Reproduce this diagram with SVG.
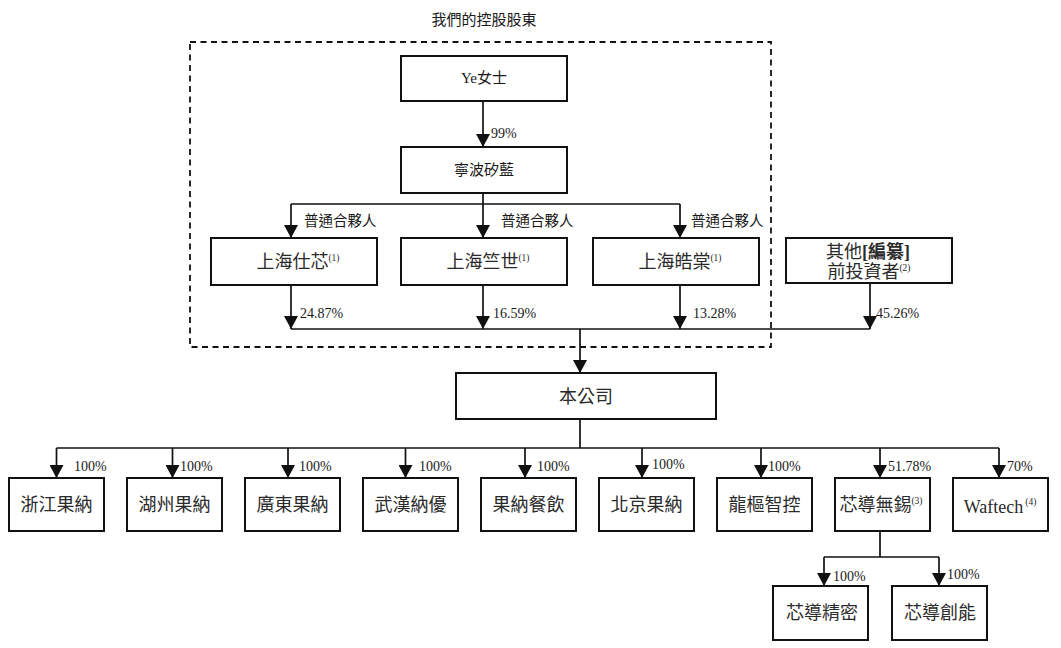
<svg xmlns="http://www.w3.org/2000/svg" width="1061" height="648" viewBox="0 0 1061 648">
<style>
  text { font-family: "Liberation Serif", "Times New Roman", "DejaVu Serif", "Noto Sans CJK TC", serif; fill: #1a1a1a; }
  .box { fill: #ffffff; stroke: #111; stroke-width: 2; }
  .ln { fill: none; stroke: #111; stroke-width: 1.7; }
  .arr { fill: none; stroke: #111; stroke-width: 1.7; marker-end: url(#ah); }
  .dash { fill: none; stroke: #111; stroke-width: 1.8; stroke-dasharray: 6 4.5; }
  .t18 { font-size: 18px; text-anchor: middle; fill: #2a2a2a; }
  .t15 { font-size: 15px; text-anchor: middle; }
  .pct { font-size: 14px; }
  .gp { font-size: 14.5px; }
  .sup { font-size: 9.5px; }
</style>
<defs>
  <marker id="ah" markerWidth="14" markerHeight="14" refX="13" refY="7" orient="auto" markerUnits="userSpaceOnUse">
    <path d="M0,0 L13,7 L0,14 z" fill="#111"/>
  </marker>
</defs>
<rect width="1061" height="648" fill="#ffffff"/>

<g id="controlling-group">
  <rect class="dash" x="190" y="42" width="581" height="305"/>
  <text id="title" x="484" y="25" class="t15">我們的控股股東</text>
</g>

<g id="connectors">
  <line class="arr" x1="483" y1="101" x2="483" y2="147"/>
  <text class="pct" x="491" y="138">99%</text>

  <line class="ln" x1="483" y1="193" x2="483" y2="204"/>
  <line class="ln" x1="291" y1="204" x2="680" y2="204"/>
  <line class="arr" x1="291" y1="204" x2="291" y2="238"/>
  <line class="arr" x1="483" y1="204" x2="483" y2="238"/>
  <line class="arr" x1="680" y1="204" x2="680" y2="238"/>
  <text class="gp" x="304" y="226">普通合夥人</text>
  <text class="gp" x="501" y="226">普通合夥人</text>
  <text class="gp" x="691" y="226">普通合夥人</text>

  <line class="arr" x1="291" y1="285" x2="291" y2="329"/>
  <line class="arr" x1="483" y1="285" x2="483" y2="329"/>
  <line class="arr" x1="680" y1="285" x2="680" y2="329"/>
  <line class="arr" x1="870" y1="283" x2="870" y2="329"/>
  <line class="ln" x1="291" y1="329" x2="870" y2="329"/>
  <text class="pct" x="300" y="318">24.87%</text>
  <text class="pct" x="493" y="318">16.59%</text>
  <text class="pct" x="693" y="318">13.28%</text>
  <text class="pct" x="876" y="318">45.26%</text>

  <line class="arr" x1="580" y1="329" x2="580" y2="373"/>

  <line class="ln" x1="580" y1="419" x2="580" y2="448"/>
  <line class="ln" x1="56.5" y1="448" x2="999" y2="448"/>
  <line class="arr" x1="56.5" y1="448" x2="56.5" y2="478"/>
  <line class="arr" x1="172.5" y1="448" x2="172.5" y2="478"/>
  <line class="arr" x1="288" y1="448" x2="288" y2="478"/>
  <line class="arr" x1="405.5" y1="448" x2="405.5" y2="478"/>
  <line class="arr" x1="525" y1="448" x2="525" y2="478"/>
  <line class="arr" x1="642" y1="448" x2="642" y2="478"/>
  <line class="arr" x1="761" y1="448" x2="761" y2="478"/>
  <line class="arr" x1="880" y1="448" x2="880" y2="478"/>
  <line class="arr" x1="999" y1="448" x2="999" y2="478"/>
  <text class="pct" x="74" y="471">100%</text>
  <text class="pct" x="180" y="471">100%</text>
  <text class="pct" x="299" y="471">100%</text>
  <text class="pct" x="419" y="471">100%</text>
  <text class="pct" x="537" y="471">100%</text>
  <text class="pct" x="652" y="469">100%</text>
  <text class="pct" x="768" y="471">100%</text>
  <text class="pct" x="888" y="471">51.78%</text>
  <text class="pct" x="1007" y="471">70%</text>

  <line class="ln" x1="880" y1="531" x2="880" y2="557"/>
  <line class="ln" x1="824" y1="557" x2="939" y2="557"/>
  <line class="arr" x1="824" y1="557" x2="824" y2="586"/>
  <line class="arr" x1="939" y1="557" x2="939" y2="586"/>
  <text class="pct" x="833" y="581">100%</text>
  <text class="pct" x="947" y="579">100%</text>
</g>

<g id="node-ye">
  <rect class="box" x="401" y="56" width="166" height="45"/>
  <text class="t15" x="484" y="83">Ye女士</text>
</g>
<g id="node-ningbo">
  <rect class="box" x="401" y="147" width="166" height="46"/>
  <text class="t15" x="484" y="175">寧波矽藍</text>
</g>
<g id="node-shixin">
  <rect class="box" x="211" y="238" width="166" height="47"/>
  <text class="t18" x="298" y="268">上海仕芯<tspan class="sup" dy="-7">(1)</tspan></text>
</g>
<g id="node-zhushi">
  <rect class="box" x="401" y="238" width="166" height="47"/>
  <text class="t18" x="488" y="268">上海竺世<tspan class="sup" dy="-7">(1)</tspan></text>
</g>
<g id="node-haotang">
  <rect class="box" x="593" y="238" width="166" height="47"/>
  <text class="t18" x="680" y="268">上海皓棠<tspan class="sup" dy="-7">(1)</tspan></text>
</g>
<g id="node-others">
  <rect class="box" x="786" y="238" width="166" height="45"/>
  <text class="t18" x="868" y="258">其他<tspan font-weight="bold">[編纂]</tspan></text>
  <text class="t18" x="869" y="278">前投資者<tspan class="sup" dy="-7">(2)</tspan></text>
</g>
<g id="node-company">
  <rect class="box" x="456" y="373" width="260" height="46"/>
  <text class="t18" x="586" y="403">本公司</text>
</g>

<g id="node-zhejiang">
  <rect class="box" x="9" y="478" width="95" height="53"/>
  <text class="t18" x="56.5" y="511">浙江果納</text>
</g>
<g id="node-huzhou">
  <rect class="box" x="127" y="478" width="95" height="53"/>
  <text class="t18" x="174.5" y="511">湖州果納</text>
</g>
<g id="node-guangdong">
  <rect class="box" x="245" y="478" width="95" height="53"/>
  <text class="t18" x="292.5" y="511">廣東果納</text>
</g>
<g id="node-wuhan">
  <rect class="box" x="363" y="478" width="95" height="53"/>
  <text class="t18" x="410.5" y="511">武漢納優</text>
</g>
<g id="node-catering">
  <rect class="box" x="481" y="478" width="95" height="53"/>
  <text class="t18" x="528.5" y="511">果納餐飲</text>
</g>
<g id="node-beijing">
  <rect class="box" x="599" y="478" width="95" height="53"/>
  <text class="t18" x="646.5" y="511">北京果納</text>
</g>
<g id="node-longshu">
  <rect class="box" x="717" y="478" width="95" height="53"/>
  <text class="t18" x="764.5" y="511">龍樞智控</text>
</g>
<g id="node-xindao-wuxi">
  <rect class="box" x="835" y="478" width="95" height="53"/>
  <text class="t18" x="881" y="511">芯導無錫<tspan class="sup" dy="-7">(3)</tspan></text>
</g>
<g id="node-waftech">
  <rect class="box" x="953" y="478" width="95" height="53"/>
  <text class="t18" x="1000" y="513">Waftech<tspan class="sup" dy="-8" dx="2">(4)</tspan></text>
</g>
<g id="node-precision">
  <rect class="box" x="773" y="586" width="95" height="54"/>
  <text class="t18" x="822" y="619">芯導精密</text>
</g>
<g id="node-chuangneng">
  <rect class="box" x="892" y="586" width="95" height="54"/>
  <text class="t18" x="940" y="619">芯導創能</text>
</g>
</svg>
